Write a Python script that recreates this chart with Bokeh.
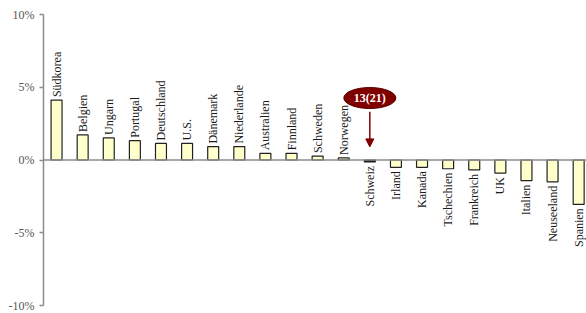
import math
from bokeh.plotting import figure
from bokeh.models import (Range1d, Span, Arrow, NormalHead, ColumnDataSource,
                          FixedTicker, PrintfTickFormatter)
from bokeh.core.properties import value
from bokeh.embed import file_html
from bokeh.resources import INLINE

# ---- data ----
countries = ["Südkorea", "Belgien", "Ungarn", "Portugal", "Deutschland", "U.S.",
             "Dänemark", "Niederlande", "Australien", "Finnland", "Schweden",
             "Norwegen", "Schweiz", "Irland", "Kanada", "Tschechien", "Frankreich",
             "UK", "Italien", "Neuseeland", "Spanien"]
values = [4.12, 1.72, 1.52, 1.33, 1.14, 1.14, 0.92, 0.92, 0.46, 0.46, 0.27,
          0.14, -0.13, -0.5, -0.5, -0.6, -0.68, -0.9, -1.42, -1.5, -3.05]
highlight = "Schweiz"
annotation_text = "13(21)"
y_ticks = [-10, -5, 0, 5, 10]

BAR_FILL = "#FFFFCC"
HIGHLIGHT_FILL = "#2a0000"
MAROON = "#800000"

xs = [i + 0.5 for i in range(len(countries))]
fills = [HIGHLIGHT_FILL if c == highlight else BAR_FILL for c in countries]
src = ColumnDataSource(dict(x=xs, v=values, name=countries, fill=fills))

pos = [i for i, v in enumerate(values) if v >= 0]
neg = [i for i, v in enumerate(values) if v < 0]
src_pos = ColumnDataSource(dict(x=[xs[i] for i in pos], y=[values[i] for i in pos],
                                name=[countries[i] for i in pos]))
src_neg = ColumnDataSource(dict(x=[xs[i] for i in neg], y=[values[i] for i in neg],
                                name=[countries[i] for i in neg]))

p = figure(width=586, height=313, x_range=Range1d(0, 20.8), y_range=Range1d(-10, 10),
           output_backend="svg", toolbar_location=None,
           min_border_left=43, min_border_right=0, min_border_top=14, min_border_bottom=8)
p.outline_line_color = None
p.xgrid.visible = False
p.ygrid.visible = False
p.xaxis.visible = False

ax = p.yaxis[0]
ax.ticker = FixedTicker(ticks=y_ticks)
ax.formatter = PrintfTickFormatter(format="%d%%")
ax.axis_line_color = "#8c8c8c"
ax.axis_line_width = 1.5
ax.major_tick_line_color = "#8c8c8c"
ax.major_tick_line_width = 1.5
ax.major_tick_out = 4
ax.major_tick_in = 0
ax.minor_tick_line_color = None
ax.major_label_text_font = "Liberation Serif"
ax.major_label_text_font_size = "12px"
ax.major_label_text_color = "#555555"
ax.major_label_standoff = 5

p.vbar(x="x", top="v", bottom=0, width=0.42, fill_color="fill",
       line_color="#222222", line_width=1.2, source=src)

p.add_layout(Span(location=0, dimension="width", line_color="#8c8c8c", line_width=1.5))

lbl_kw = dict(angle=math.pi / 2, text_baseline="middle",
              text_font=value("Liberation Serif"), text_font_size="12px",
              text_color="#1a1a1a")
p.text(x="x", y="y", text="name", text_align="left", y_offset=-3, source=src_pos, **lbl_kw)
p.text(x="x", y="y", text="name", text_align="right", y_offset=4, source=src_neg, **lbl_kw)

# annotation pointing at highlighted country
hx = xs[countries.index(highlight)]
ann_y = 4.26
arrow_start, arrow_end = 3.32, 0.9
p.add_layout(Arrow(end=NormalHead(size=8, fill_color=MAROON, line_color=MAROON),
                   x_start=hx, y_start=arrow_start, x_end=hx, y_end=arrow_end,
                   line_color=MAROON, line_width=1.5))
p.ellipse(x=[hx], y=[ann_y], width=52, height=21, width_units="screen",
          height_units="screen", fill_color=MAROON, line_color="#5a0000", line_width=1)
p.text(x=[hx], y=[ann_y], text=[annotation_text], text_align="center",
       text_baseline="middle", text_font=value("Liberation Serif"),
       text_font_size="12px", text_font_style="bold", text_color="white")

open("out.html", "w").write(file_html(p, INLINE))
